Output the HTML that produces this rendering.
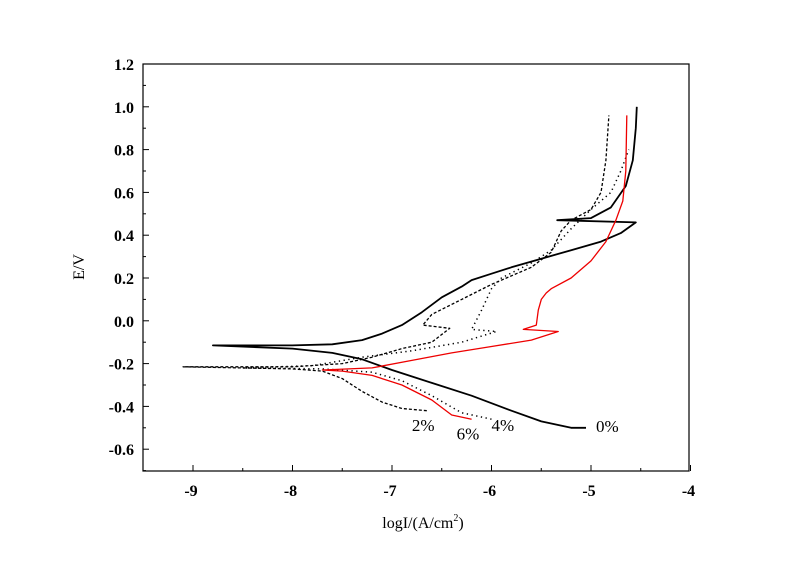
<!DOCTYPE html>
<html><head><meta charset="utf-8"><style>
body{margin:0;background:#fff}
svg text{font-family:"Liberation Serif",serif}
</style></head><body>
<svg id="chart" width="800" height="565" viewBox="0 0 800 565" xmlns="http://www.w3.org/2000/svg">
<rect x="0" y="0" width="800" height="565" fill="#fff"/>
<g id="axes"></g>
<g id="series"></g>
<rect x="143" y="64" width="546" height="407" fill="none" stroke="#000" stroke-width="1.2"/>
<text transform="translate(84,267) rotate(-90)" text-anchor="middle" font-size="16">E/V</text>
<text x="423" y="528" text-anchor="middle" font-size="16">logI/(A/cm<tspan dy="-7" font-size="10">2</tspan><tspan dy="7">)</tspan></text>
</svg>
<script>
const xTicks=[-9,-8,-7,-6,-5,-4];
const yTicks=[1.2,1.0,0.8,0.6,0.4,0.2,0.0,-0.2,-0.4,-0.6];
const seriesNames=["0%","2%","4%","6%"];
const s0x=[-5.05,-5.2,-5.5,-5.8,-6.2,-6.6,-7.0,-7.3,-7.6,-8.0,-8.8,-8.0,-7.6,-7.3,-7.1,-6.9,-6.7,-6.5,-6.3,-6.2,-6.0,-5.8,-5.5,-5.2,-4.9,-4.7,-4.55,-5.34,-5.0,-4.8,-4.65,-4.58,-4.55,-4.54];
const s0y=[-0.50,-0.50,-0.47,-0.42,-0.35,-0.29,-0.23,-0.18,-0.15,-0.13,-0.115,-0.115,-0.11,-0.09,-0.06,-0.02,0.04,0.11,0.16,0.19,0.22,0.25,0.29,0.33,0.37,0.41,0.46,0.47,0.48,0.53,0.63,0.75,0.9,1.0];
const s2x=[-6.65,-6.9,-7.1,-7.3,-7.5,-7.7,-8.0,-9.1,-8.0,-7.5,-7.2,-6.9,-6.6,-6.42,-6.69,-6.6,-6.3,-6.0,-5.6,-5.4,-5.3,-5.2,-5.0,-4.9,-4.85,-4.82];
const s2y=[-0.42,-0.41,-0.38,-0.33,-0.27,-0.235,-0.225,-0.215,-0.215,-0.20,-0.17,-0.13,-0.10,-0.035,-0.02,0.03,0.10,0.17,0.25,0.32,0.42,0.47,0.52,0.60,0.75,0.96];
const s4x=[-6.0,-6.3,-6.6,-6.9,-7.2,-7.7,-8.5,-7.8,-7.3,-6.8,-6.3,-5.95,-6.2,-6.1,-6.0,-5.9,-5.6,-5.4,-5.2,-5.0,-4.8,-4.7,-4.62];
const s4y=[-0.46,-0.43,-0.35,-0.28,-0.24,-0.225,-0.22,-0.21,-0.17,-0.14,-0.10,-0.05,-0.04,0.05,0.15,0.20,0.27,0.33,0.43,0.52,0.60,0.70,0.80];
const s6x=[-6.2,-6.4,-6.6,-6.9,-7.2,-7.5,-7.7,-7.2,-6.8,-6.4,-6.0,-5.6,-5.33,-5.68,-5.55,-5.53,-5.5,-5.45,-5.4,-5.2,-5.0,-4.85,-4.75,-4.68,-4.65,-4.64];
const s6y=[-0.46,-0.44,-0.37,-0.30,-0.255,-0.235,-0.23,-0.22,-0.185,-0.15,-0.12,-0.09,-0.05,-0.04,-0.02,0.05,0.10,0.13,0.15,0.20,0.28,0.37,0.47,0.56,0.70,0.96];
const labelX=[-4.95,-6.8,-6.0,-6.35];
const labelY=[-0.52,-0.515,-0.515,-0.555];

const X=v=>193+(v+9)*99.5;
const Y=v=>64+(1.2-v)*214;
const NS="http://www.w3.org/2000/svg";
const axes=document.getElementById('axes'),ser=document.getElementById('series');
function mk(t,a,p){const e=document.createElementNS(NS,t);for(const k in a)e.setAttribute(k,a[k]);p.appendChild(e);return e;}
xTicks.forEach(v=>{
 const l=mk('line',{x1:X(v),x2:X(v),y1:471,y2:465,stroke:'#000'},axes);
 
 
 if(v<-4){const m=mk('line',{x1:X(v+0.5),x2:X(v+0.5),y1:471,y2:468,stroke:'#000'},axes);
 
 }
 const t=mk('text',{x:X(v)-2,y:496,'text-anchor':'middle','font-size':'16','font-weight':'bold'},axes);
 t.textContent=v;
 
 
});
yTicks.forEach(v=>{
 const l=mk('line',{x1:143,x2:149,y1:Y(v),y2:Y(v),stroke:'#000'},axes);
 
 
 const m=mk('line',{x1:143,x2:146,y1:Y(v-0.1),y2:Y(v-0.1),stroke:'#000'},axes);
 
 
 const t=mk('text',{x:134,y:Y(v)+6,'text-anchor':'end','font-size':'16','font-weight':'bold'},axes);
 t.textContent=v.toFixed(1);
 
 
});
const data=[[s0x,s0y,'#000','',1.8],[s2x,s2y,'#000','3,2',1.3],[s4x,s4y,'#000','1.3,3.5',1.5],[s6x,s6y,'#e00','',1.3]];
data.forEach((d,i)=>{
 const pts=d[0].map((x,j)=>X(x).toFixed(1)+','+Y(d[1][j]).toFixed(1)).join(' ');
 const p=mk('polyline',{points:pts,fill:'none',stroke:d[2],'stroke-width':d[4],'stroke-dasharray':d[3],'stroke-linejoin':'round'},ser);
 
 
 const t=mk('text',{x:X(labelX[i]),y:Y(labelY[i]),'font-size':'17'},ser);
 t.textContent=seriesNames[i];
 
 
});
</script>
</body></html>
